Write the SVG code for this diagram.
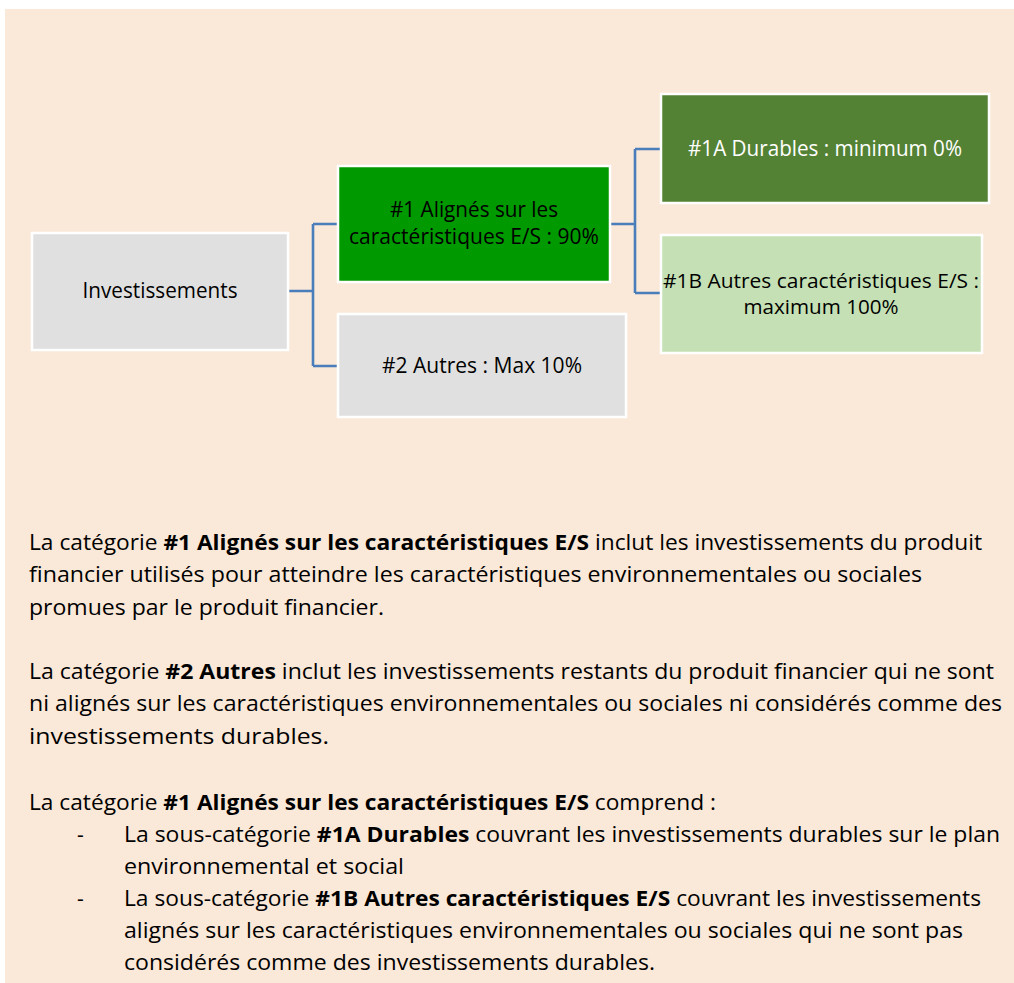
<svg xmlns="http://www.w3.org/2000/svg" width="1014" height="983" viewBox="0 0 1014 983">
<style>
.node{stroke:#ffffff;stroke-width:2.5}
.t{font-family:"Open Sans","Noto Sans","DejaVu Sans",sans-serif;font-size:21px;fill:#000000}
.s{font-size:20px}
.tw{fill:#ffffff}
.b{font-weight:bold}
.c{fill:none;stroke:#4A7EBB;stroke-width:2.6}
</style>
<rect x="0" y="0" width="1014" height="983" fill="#ffffff"/>
<rect x="5" y="9" width="1009" height="974" fill="#FAE8D8"/>
<g id="connectors">
<path class="c" d="M288 291 H313 M313 224 V366 M313 224 H338 M313 366 H338"/>
<path class="c" d="M610 224 H635 M635 149 V293 M635 149 H661 M635 293 H661"/>
</g>
<g id="n-investissements">
<rect class="node" x="32" y="233" width="256" height="117" fill="#E0E0E0"/>
<text class="t" x="160" y="298" text-anchor="middle" textLength="155" lengthAdjust="spacingAndGlyphs">Investissements</text>
</g>
<g id="n-1">
<rect class="node" x="338" y="166" width="272" height="116" fill="#009900"/>
<text class="t" x="474" y="217" text-anchor="middle" textLength="168" lengthAdjust="spacingAndGlyphs">#1 Alignés sur les</text>
<text class="t" x="474" y="243.5" text-anchor="middle" textLength="250" lengthAdjust="spacingAndGlyphs">caractéristiques E/S : 90%</text>
</g>
<g id="n-2">
<rect class="node" x="338" y="314" width="288" height="103" fill="#E0E0E0"/>
<text class="t" x="482" y="372.5" text-anchor="middle" textLength="200" lengthAdjust="spacingAndGlyphs">#2 Autres : Max 10%</text>
</g>
<g id="n-1a">
<rect class="node" x="661" y="94" width="328" height="109" fill="#548235"/>
<text class="t tw" x="825" y="156" text-anchor="middle" textLength="274" lengthAdjust="spacingAndGlyphs">#1A Durables : minimum 0%</text>
</g>
<g id="n-1b">
<rect class="node" x="661" y="235" width="321" height="118" fill="#C5E0B4"/>
<text class="t s" x="821" y="288" text-anchor="middle" textLength="316" lengthAdjust="spacingAndGlyphs">#1B Autres caractéristiques E/S :</text>
<text class="t s" x="821" y="314" text-anchor="middle" textLength="155" lengthAdjust="spacingAndGlyphs">maximum 100%</text>
</g>
<g id="body-text">
<text class="t" x="29" y="550" textLength="953" lengthAdjust="spacingAndGlyphs">La catégorie <tspan class="b">#1 Alignés sur les caractéristiques E/S</tspan> inclut les investissements du produit</text>
<text class="t" x="29" y="582.3" textLength="893" lengthAdjust="spacingAndGlyphs">financier utilisés pour atteindre les caractéristiques environnementales ou sociales</text>
<text class="t" x="29" y="614.5" textLength="355" lengthAdjust="spacingAndGlyphs">promues par le produit financier.</text>
<text class="t" x="29" y="679.3" textLength="965" lengthAdjust="spacingAndGlyphs">La catégorie <tspan class="b">#2 Autres</tspan> inclut les investissements restants du produit financier qui ne sont</text>
<text class="t" x="29" y="711.3" textLength="973" lengthAdjust="spacingAndGlyphs">ni alignés sur les caractéristiques environnementales ou sociales ni considérés comme des</text>
<text class="t" x="29" y="743.5" textLength="300" lengthAdjust="spacingAndGlyphs">investissements durables.</text>
<text class="t" x="29" y="809.5" textLength="687" lengthAdjust="spacingAndGlyphs">La catégorie <tspan class="b">#1 Alignés sur les caractéristiques E/S</tspan> comprend :</text>
<text class="t" x="77" y="841.7">-</text>
<text class="t" x="124" y="841.7" textLength="876" lengthAdjust="spacingAndGlyphs">La sous-catégorie <tspan class="b">#1A Durables</tspan> couvrant les investissements durables sur le plan</text>
<text class="t" x="124" y="874" textLength="280" lengthAdjust="spacingAndGlyphs">environnemental et social</text>
<text class="t" x="77" y="906">-</text>
<text class="t" x="124" y="906" textLength="857" lengthAdjust="spacingAndGlyphs">La sous-catégorie <tspan class="b">#1B Autres caractéristiques E/S</tspan> couvrant les investissements</text>
<text class="t" x="124" y="938.3" textLength="839" lengthAdjust="spacingAndGlyphs">alignés sur les caractéristiques environnementales ou sociales qui ne sont pas</text>
<text class="t" x="124" y="970.3" textLength="531" lengthAdjust="spacingAndGlyphs">considérés comme des investissements durables.</text>
</g>
</svg>
